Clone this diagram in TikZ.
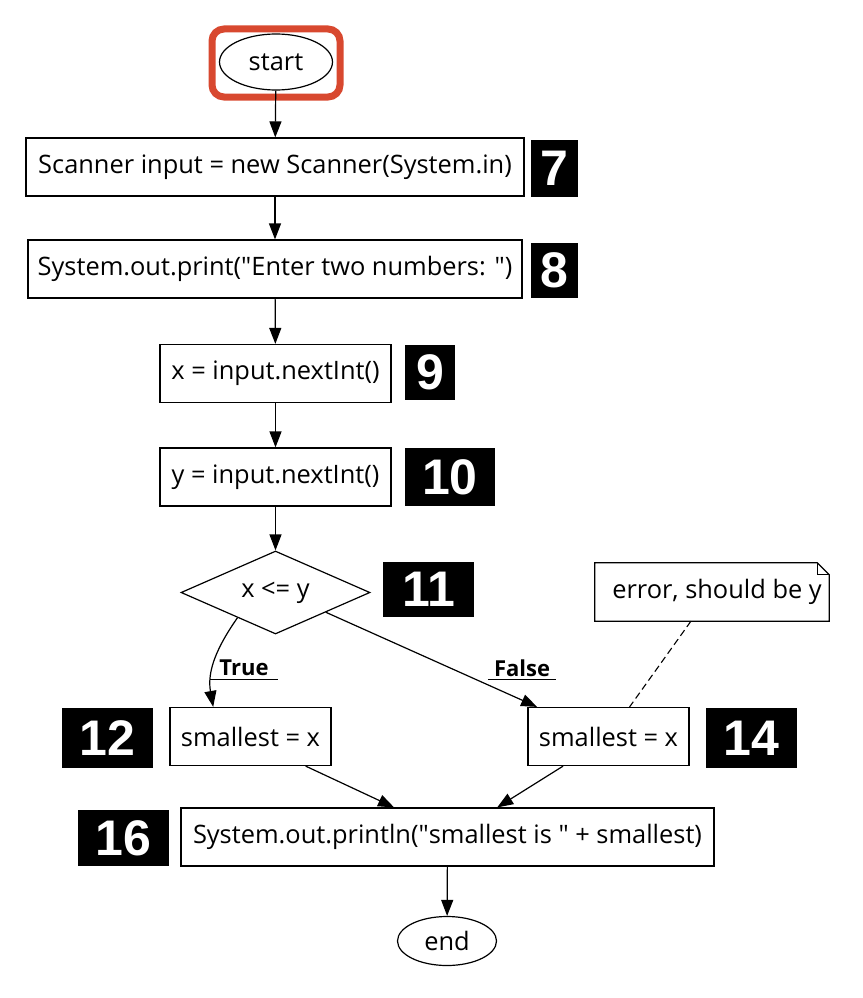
\documentclass[tikz,border=0pt]{standalone}
\usepackage{fontspec}
\setmainfont{Open Sans}
\newfontfamily\badgefont{Liberation Sans}
\usetikzlibrary{shapes.geometric, arrows.meta, calc}
\definecolor{myred}{HTML}{D8482F}
\tikzset{
	stmtbox/.style={draw, line width=1.2pt, inner sep=0pt, minimum height=58pt, font=\fontsize{25.4}{30}\selectfont}
}
\tikzset{
	termnode/.style={draw, ellipse, line width=1.2pt, inner sep=0pt, font=\fontsize{25.4}{30}\selectfont}
}
\tikzset{
	linebadge/.style={fill=black, text=white, inner sep=0pt, font=\badgefont\bfseries\fontsize{50}{50}\selectfont}
}
\tikzset{
	flow/.style={-{Triangle[length=16pt,width=12pt]}, line width=1.2pt},
	branchlabel/.style={inner sep=3pt, minimum width=68pt, font=\bfseries\fontsize{22}{26}\selectfont}
}

\begin{document}
\begin{tikzpicture}[x=1pt, y=-1pt]
      \useasboundingbox (0,0) rectangle (862,998);

      % start, highlighted
      \node[termnode, minimum width=113pt, minimum height=56pt] (start) at (276,62) {start};
      \draw[myred, line width=7pt, rounded corners=12pt] (212,29) rectangle (340,97);

      % statements 7 to 10
      \node[stmtbox, minimum width=498pt] (scan) at (275,167) {Scanner input = new Scanner(System.in)};
      \node[linebadge, minimum width=47pt, minimum height=57pt] (b7) at (554.5,168.5) {7};
      \node[stmtbox, minimum width=494pt] (prompt) at (275,269) {System.out.print(\textquotedbl Enter two numbers: \textquotedbl)};
      \node[linebadge, minimum width=47pt, minimum height=55pt] (b8) at (554.5,270.5) {8};
      \node[stmtbox, minimum width=231pt] (readx) at (275.5,373.5) {x = input.nextInt()};
      \node[linebadge, minimum width=50pt, minimum height=55pt] (b9) at (430,372.5) {9};
      \node[stmtbox, minimum width=231pt] (ready) at (275.5,477) {y = input.nextInt()};
      \node[linebadge, minimum width=90pt, minimum height=58pt] (b10) at (450,477) {10};

      % the test
      \node[draw, diamond, aspect=2.3, line width=1.2pt, inner sep=0pt, minimum width=189pt, minimum height=83pt,
        font=\fontsize{25.4}{30}\selectfont] (test) at (275.5,592.5) {x <= y};
      \node[linebadge, minimum width=91pt, minimum height=55pt] (b11) at (428.5,589.5) {11};

      % note on the false branch
      \node[minimum width=234pt, minimum height=58pt, font=\fontsize{25.4}{30}\selectfont] (errnote) at (712,592) {\hspace{10pt}error, should be y};
      \draw[line width=1.2pt] (errnote.north west) -- ($(errnote.north east)+(-12,0)$)
        -- ($(errnote.north east)+(0,12)$) -- (errnote.south east) -- (errnote.south west) -- cycle;
      \draw[line width=0.8pt] ($(errnote.north east)+(-12,0)$) -- ($(errnote.north east)+(-12,12)$)
        -- ($(errnote.north east)+(0,12)$);

      % both branches
      \node[stmtbox, minimum width=161pt] (small1) at (250.5,736.5) {smallest = x};
      \node[linebadge, minimum width=91pt, minimum height=60pt] (b12) at (107.5,738) {12};
      \node[stmtbox, minimum width=161pt] (small2) at (608.5,736.5) {smallest = x};
      \node[linebadge, minimum width=91pt, minimum height=60pt] (b14) at (751.5,738) {14};

      % output and end
      \node[stmtbox, minimum width=533pt] (result) at (447.5,837) {System.out.println(\textquotedbl smallest is \textquotedbl{} + smallest)};
      \node[linebadge, minimum width=91pt, minimum height=56pt] (b16) at (123.5,838) {16};
      \node[termnode, minimum width=99pt, minimum height=49pt] (stop) at (447,941) {end};

      % flow
      \draw[flow] (start) -- (scan);
      \draw[flow] (scan) -- (prompt);
      \draw[flow] (prompt) -- (readx);
      \draw[flow] (readx) -- (ready);
      \draw[flow] (ready) -- (test);
      \draw[flow] ($(test.west)!0.6!(test.south)$) to[out=235, in=100]
        ($(small1.north west)!0.27!(small1.north east)$);
      \draw[flow] ($(test.east)!0.47!(test.south)$) -- ($(small2.north west)!0.06!(small2.north east)$);
      \draw[flow] ($(small1.south west)!0.84!(small1.south east)$) -- ($(result.north west)!0.4!(result.north east)$);
      \draw[flow] ($(small2.south west)!0.22!(small2.south east)$) -- ($(result.north west)!0.593!(result.north east)$);
      \draw[flow] (result) -- (stop);
      \draw[dash pattern=on 7pt off 4pt, line width=1.1pt] ($(errnote.south west)!0.41!(errnote.south east)$)
        -- ($(small2.north west)!0.63!(small2.north east)$);

      % branch labels, underlined
      \node[branchlabel] (ltrue) at (244,668) {True};
      \draw[line width=1pt] (ltrue.south west) -- (ltrue.south east);
      \node[branchlabel] (lfalse) at (522,668) {False};
      \draw[line width=1pt] (lfalse.south west) -- (lfalse.south east);
    \end{tikzpicture}
\end{document}
